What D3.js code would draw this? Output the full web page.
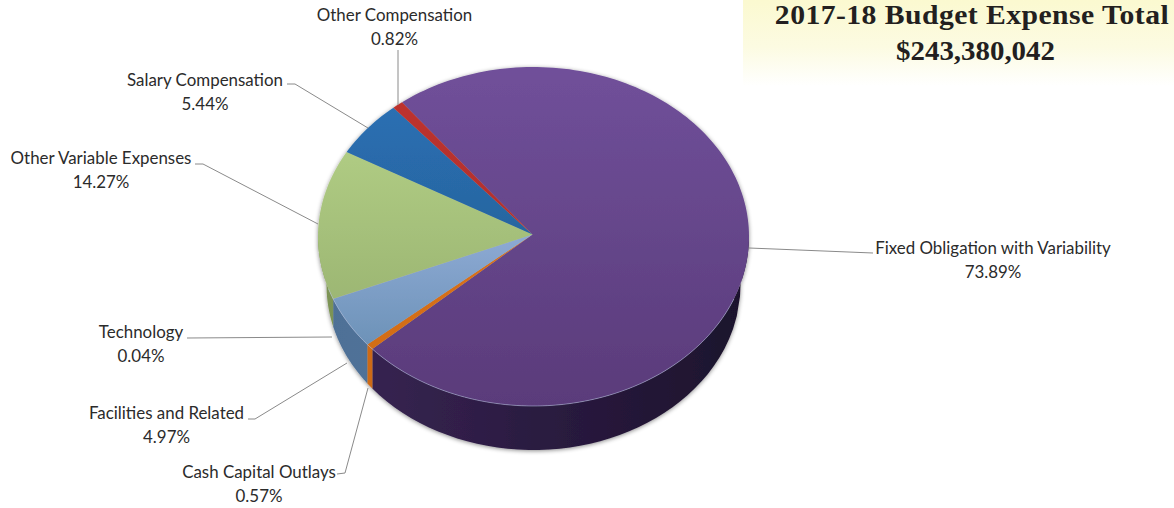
<!DOCTYPE html>
<html>
<head>
<meta charset="utf-8">
<script src="https://cdn.jsdelivr.net/npm/d3@7/dist/d3.min.js"></script>
<style>
html,body{margin:0;padding:0;background:#fff}
svg{display:block}
text{font-family:Lato,"Open Sans",sans-serif;font-size:16.9px;fill:#2b2b2b}
.title{font-family:"Liberation Serif",serif;font-weight:700;font-size:27px;fill:#231f20}
</style>
</head>
<body>
<svg id="chart" width="1174" height="508"></svg>
<script>
// Expense categories, clockwise from the top-left edge of the large slice
const categories = ["Fixed Obligation with Variability","Cash Capital Outlays","Facilities and Related","Technology","Other Variable Expenses","Salary Compensation","Other Compensation"];
const shares = [73.89,0.57,4.97,0.04,14.27,5.44,0.82];
const topColors = [["#70509a","#5a3b7a"],["#e0741c","#d06c18"],["#c0ceff","#5a85a8"],["#9ab0d0","#8aa0c0"],["#bad78c","#8fa868"],["#2b72b8","#235887"],["#c0332e","#a02c30"]];
const sideColors = [["#3a2656","#1c112c"],["#d06c18","#b85f14"],["#4e7096","#5c7ea6"],["#70885a","#70885a"],["#7d9455","#6d8248"],["#1f4f80","#1f4f80"],["#8a2420","#8a2420"]];
const titleLines = ["2017-18 Budget Expense Total","$243,380,042"];
// Where each title line sits, and how far its serif is widened
const titleLayout = [{x:972,y:24,sx:1.1,spacing:0.4},{x:975.5,y:60,sx:1.07,spacing:0}];
// Label text position and the leader polyline for each category
const labelAnchors = [[993,254],[259,478],[166.5,419],[141,338],[101,164],[205,86],[394.5,21]];
const leaderPaths = [
  [[749,248],[873,253]],
  [[337,474],[345,473],[368,388]],
  [[248,419],[255,419],[347,363]],
  [[187,338],[332,337]],
  [[195,164],[203,164],[318,224]],
  [[287,84],[295,84],[368,128]],
  [[398,50],[398,105]]
];

// Top ellipse, the smaller ellipse of the receding underside, and the slice apex
const cx = 533.5, cy = 236.5, rx = 215.5, ry = 169.5;
const baseCy = 285, baseRx = 207, baseRy = 165;
const apex = [532.5,234.5];
const startDeg = -37.6;

const svg = d3.select("#chart");
const defs = svg.append("defs");

// Soft yellow panel behind the title
const panel = defs.append("linearGradient").attr("id","panelFill").attr("x1",0).attr("y1",0).attr("x2",0).attr("y2",1);
panel.append("stop").attr("offset",0).attr("stop-color","#fbf9d0");
panel.append("stop").attr("offset",0.55).attr("stop-color","#fcfbe2");
panel.append("stop").attr("offset",1).attr("stop-color","#ffffff");
svg.append("rect").attr("x",743).attr("y",0).attr("width",431).attr("height",86).attr("fill","url(#panelFill)");

svg.selectAll("text.title").data(titleLines).join("text")
  .attr("class","title")
  .attr("transform",(d,i)=>`translate(${titleLayout[i].x},${titleLayout[i].y}) scale(${titleLayout[i].sx},1)`)
  .attr("letter-spacing",(d,i)=>titleLayout[i].spacing)
  .attr("text-anchor","middle").text(d=>d);

topColors.forEach((c,i)=>{
  const g = defs.append("linearGradient").attr("id","top"+i)
    .attr("gradientUnits","userSpaceOnUse").attr("x1",0).attr("y1",cy-ry).attr("x2",0).attr("y2",cy+ry);
  g.append("stop").attr("offset",0).attr("stop-color",c[0]);
  g.append("stop").attr("offset",1).attr("stop-color",c[1]);
});
sideColors.forEach((c,i)=>{
  const g = defs.append("linearGradient").attr("id","side"+i)
    .attr("gradientUnits","userSpaceOnUse").attr("x1",cx-rx).attr("y1",0).attr("x2",cx+rx).attr("y2",0);
  g.append("stop").attr("offset",0).attr("stop-color",c[0]);
  g.append("stop").attr("offset",1).attr("stop-color",c[1]);
});
const shadow = defs.append("filter").attr("id","discShadow").attr("x","-5%").attr("y","-5%").attr("width","110%").attr("height","115%");
shadow.append("feDropShadow").attr("dx",0).attr("dy",1).attr("stdDeviation",2.2).attr("flood-color","#000").attr("flood-opacity",0.45);

const pie = d3.pie().sort(null).startAngle(startDeg*Math.PI/180).endAngle((startDeg+360)*Math.PI/180);
const slices = pie(shares);

// Project an angle (clockwise from north) onto the upper rim
const rim = a => [cx + rx*Math.sin(a), cy - ry*Math.cos(a)];
// Drop a rim point straight down onto the underside's front edge
const baseRim = a => {
  const u = Math.max(-1, Math.min(1, rx*Math.sin(a)/baseRx));
  return [cx + baseRx*u, baseCy + baseRy*Math.sqrt(1-u*u)];
};
const line = d3.line();

// Outer wall: only the stretch of each slice that faces the viewer
const wallSegments = slices.map((s,i)=>{
  const lo = Math.max(s.startAngle, Math.PI/2), hi = Math.min(s.endAngle, 3*Math.PI/2);
  const lo2 = Math.max(s.startAngle-2*Math.PI, Math.PI/2), hi2 = Math.min(s.endAngle-2*Math.PI, 3*Math.PI/2);
  const [a,b] = hi>lo ? [lo,hi] : [lo2,hi2];
  return {i,a,b};
}).filter(d=>d.b>d.a);

const body = svg.append("g").attr("filter","url(#discShadow)");
body.selectAll("path.wall").data(wallSegments).join("path")
  .attr("class","wall")
  .attr("d",d=>{
    const steps = d3.range(0,1.0001,0.02).map(t=>d.a+(d.b-d.a)*t);
    return line([...steps.map(rim), ...steps.slice().reverse().map(baseRim)])+"Z";
  })
  .attr("fill",d=>`url(#side${d.i})`);

const facePath = s=>{
  const n = Math.max(2,Math.ceil((s.endAngle-s.startAngle)*40));
  const pts = d3.range(n+1).map(k=>rim(s.startAngle+(s.endAngle-s.startAngle)*k/n));
  return line([apex,...pts])+"Z";
};
body.append("g").selectAll("path").data(slices).join("path")
  .attr("d",facePath)
  .attr("fill",(d,i)=>`url(#top${i})`);

// Pale highlight along the front rim
svg.append("path")
  .attr("d",line(d3.range(0,1.0001,0.01).map(t=>rim(Math.PI*0.62+Math.PI*0.78*t))))
  .attr("fill","none").attr("stroke","#b9c6e6").attr("stroke-opacity",0.5).attr("stroke-width",1);

// Leader lines
svg.append("g").selectAll("path").data(leaderPaths).join("path")
  .attr("d",line).attr("fill","none").attr("stroke","#8a8a8a").attr("stroke-width",1);

// Two-line labels: name above, share below
const labels = svg.append("g").selectAll("g").data(categories).join("g")
  .attr("transform",(d,i)=>`translate(${labelAnchors[i][0]},${labelAnchors[i][1]})`);
labels.append("text").attr("text-anchor","middle").attr("y",0).text(d=>d);
labels.append("text").attr("text-anchor","middle").attr("y",24).text((d,i)=>shares[i].toFixed(2)+"%");
</script>
</body>
</html>
